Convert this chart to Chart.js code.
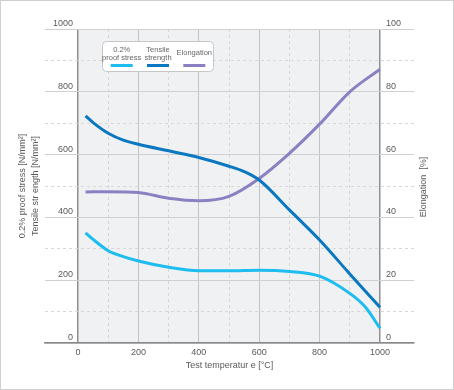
<!DOCTYPE html>
<html><head><meta charset="utf-8">
<script src="https://cdn.jsdelivr.net/npm/chart.js@4.4.1/dist/chart.umd.min.js"></script>
<style>html,body{margin:0;padding:0;background:#fff}#wrap{position:relative;width:454px;height:390px}</style>
</head><body><div id="wrap"><canvas id="c" width="454" height="390"></canvas></div>
<script>
const proofTemps = [25, 50, 100, 150, 200, 300, 400, 500, 600, 700, 800, 900, 950, 1000];
const proofStress = [351, 330, 294, 275, 261, 241, 230, 230, 232, 228, 213, 158, 116, 47];
const tensileTemps = [25, 50, 100, 150, 200, 300, 400, 500, 550, 600, 700, 800, 900, 1000];
const tensileStrength = [723, 702, 668, 646, 633, 612, 591, 563, 546, 519, 424, 328, 220, 114];
const elongTemps = [25, 100, 200, 300, 400, 500, 600, 700, 800, 900, 1000];
const elongation = [48.1, 48.2, 47.9, 46.1, 45.3, 46.7, 52.4, 60.4, 69.7, 80.0, 87.2];
const xTicks = [0, 100, 200, 300, 400, 500, 600, 700, 800, 900, 1000];
const stressTicks = [0, 100, 200, 300, 400, 500, 600, 700, 800, 900, 1000];
const elongTicks = [0, 10, 20, 30, 40, 50, 60, 70, 80, 90, 100];
const seriesNames = ['0.2% proof stress', 'Tensile strength', 'Elongation'];
const legendLines = [['0.2%', 'proof stress'], ['Tensile', 'strength'], ['Elongation']];
const xTitle = 'Test temperatur e [°C]';
const yTitle = ['0.2% proof stress [N/mm²]', 'Tensile str ength [N/mm²]'];
const y2Title = 'Elongation  [%]';

const FONT = '"Liberation Sans", Arial, Helvetica, sans-serif';
const TXT = '#5a5a5a';
const COLORS = ['#1dbdf0', '#0a77c1', '#8a80c2'];

const pts = (xs, ys) => xs.map((t, i) => ({x: t, y: ys[i]}));

const isMajor = (v, step) => Math.abs(v % step) < 1e-9;

const bgPlugin = {
  id: 'bg',
  beforeDraw(chart) {
    const {ctx, chartArea: a, scales: {x}} = chart;
    ctx.save();
    ctx.fillStyle = '#ffffff';
    ctx.fillRect(0, 0, chart.width, chart.height);
    const l = x.getPixelForValue(0), r = x.getPixelForValue(1000);
    ctx.fillStyle = '#f0f1f3';
    ctx.fillRect(l, a.top, r - l, a.bottom - a.top);
    ctx.restore();
  },
  afterDraw(chart) {
    const {ctx, chartArea: a} = chart;
    ctx.save();
    ctx.strokeStyle = '#d0d0d0';
    ctx.lineWidth = 1;
    ctx.strokeRect(0.5, 0.5, chart.width - 1, chart.height - 1);
    ctx.fillStyle = TXT;
    ctx.font = '9px ' + FONT;
    ctx.textAlign = 'center';
    ctx.textBaseline = 'middle';
    ctx.translate(424, (a.top + a.bottom) / 2 + 1);
    ctx.rotate(-Math.PI / 2);
    ctx.fillText(y2Title, 0, 0);
    ctx.restore();

    ctx.save();
    const bx = 102.5, by = 41.5, bw = 111, bh = 30, rr = 4;
    ctx.beginPath();
    ctx.moveTo(bx + rr, by);
    ctx.arcTo(bx + bw, by, bx + bw, by + bh, rr);
    ctx.arcTo(bx + bw, by + bh, bx, by + bh, rr);
    ctx.arcTo(bx, by + bh, bx, by, rr);
    ctx.arcTo(bx, by, bx + bw, by, rr);
    ctx.closePath();
    ctx.fillStyle = '#ffffff';
    ctx.fill();
    ctx.strokeStyle = '#c6c6c6';
    ctx.lineWidth = 1;
    ctx.stroke();
    ctx.font = '7.5px ' + FONT;
    ctx.fillStyle = '#666';
    ctx.textAlign = 'center';
    ctx.textBaseline = 'middle';
    const centers = [121.7, 158, 194.3];
    chart.data.datasets.forEach((ds, i) => {
      const lines = legendLines[i];
      const cx = centers[i];
      if (lines.length === 2) {
        ctx.fillText(lines[0], cx, 49.5);
        ctx.fillText(lines[1], cx, 57.5);
      } else {
        ctx.fillText(lines[0], cx, 53);
      }
      ctx.strokeStyle = ds.borderColor;
      ctx.lineWidth = 3;
      ctx.lineCap = 'butt';
      ctx.beginPath();
      ctx.moveTo(cx - 11, 65.5);
      ctx.lineTo(cx + 11, 65.5);
      ctx.stroke();
    });
    ctx.restore();
  }
};

new Chart(document.getElementById('c'), {
  type: 'line',
  data: {
    datasets: [
      {label: seriesNames[0], data: pts(proofTemps, proofStress), yAxisID: 'y', borderColor: COLORS[0]},
      {label: seriesNames[1], data: pts(tensileTemps, tensileStrength), yAxisID: 'y', borderColor: COLORS[1]},
      {label: seriesNames[2], data: pts(elongTemps, elongation), yAxisID: 'y2', borderColor: COLORS[2]}
    ]
  },
  options: {
    responsive: false,
    animation: false,
    devicePixelRatio: 1,
    layout: {padding: {top: 29, left: 0, right: 0, bottom: 0}},
    elements: {
      point: {radius: 0},
      line: {borderWidth: 3, cubicInterpolationMode: 'monotone', fill: false, borderCapStyle: 'butt'}
    },
    plugins: {legend: {display: false}, tooltip: {enabled: false}},
    scales: {
      x: {
        type: 'linear',
        min: -109.3,
        max: 1112.6,
        afterBuildTicks: s => { s.ticks = xTicks.map(v => ({value: v})); },
        afterFit: s => { s.height = 47; },
        ticks: {
          autoSkip: false, maxRotation: 0, padding: 4,
          color: TXT, font: {family: FONT, size: 9},
          callback: v => isMajor(v, 200) ? String(v) : ''
        },
        grid: {
          drawTicks: false,
          color: c => { const v = c.tick ? c.tick.value : 0; return (v === 0 || v === 1000) ? '#8f8f8f' : (isMajor(v, 200) ? '#c4c4c4' : '#d6d6d6'); },
          lineWidth: c => { const v = c.tick ? c.tick.value : 0; return (v === 0 || v === 1000) ? 1.5 : 1; }
        },
        border: {
          display: true, color: '#8a8a8a', width: 1.5,
          dash: c => (c.tick && !isMajor(c.tick.value, 200)) ? [3, 3] : []
        },
        title: {
          display: true, text: xTitle, color: TXT,
          font: {family: FONT, size: 9, lineHeight: 1.2},
          padding: {top: 0, bottom: 18.6}
        }
      },
      y: {
        position: 'left',
        min: 0, max: 1000,
        afterBuildTicks: s => { s.ticks = stressTicks.map(v => ({value: v})); },
        afterFit: s => { s.width = 45; },
        ticks: {
          mirror: true, crossAlign: 'far', padding: 8, labelOffset: -5.5,
          color: TXT, font: {family: FONT, size: 9},
          callback: v => isMajor(v, 200) ? String(v) : ''
        },
        grid: {
          drawTicks: false,
          color: c => { const v = c.tick ? c.tick.value : 0; return isMajor(v, 200) ? '#d0d0d0' : '#d8d8d8'; },
          lineWidth: 1
        },
        border: {
          display: false,
          dash: c => (c.tick && !isMajor(c.tick.value, 200)) ? [3, 3] : []
        },
        title: {
          display: true, text: yTitle, color: TXT,
          font: {family: FONT, size: 9, lineHeight: 1.45},
          padding: {top: 15.5, bottom: 0}
        }
      },
      y2: {
        position: 'right',
        min: 0, max: 100,
        afterBuildTicks: s => { s.ticks = elongTicks.map(v => ({value: v})); },
        afterFit: s => { s.width = 40; },
        ticks: {
          mirror: true, crossAlign: 'far', padding: -13, labelOffset: -5.5,
          color: TXT, font: {family: FONT, size: 9},
          callback: v => isMajor(v, 20) ? String(v) : ''
        },
        grid: {drawOnChartArea: false, drawTicks: false},
        border: {display: false},
        title: {display: false}
      }
    }
  },
  plugins: [bgPlugin]
});
</script>
</body></html>
